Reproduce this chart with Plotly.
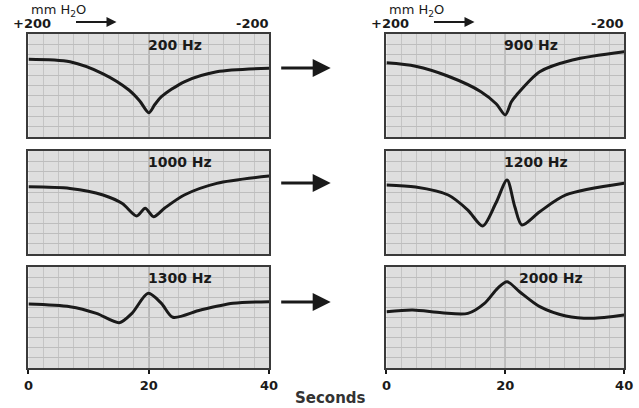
import plotly.graph_objects as go

# ---- data (time in seconds, relative admittance units 0-10) ----
t_200 = [0, 6.9, 12.4, 16.7, 18.5, 20, 21, 22.1, 25.9, 31.3, 40]
v_200 = [7.55, 7.3, 6.13, 4.56, 3.5, 2.36, 3.15, 3.91, 5.36, 6.33, 6.67]

t_900 = [0, 4.9, 10.4, 15.9, 18.5, 20, 21, 21.9, 25.8, 31.3, 40]
v_900 = [7.2, 6.87, 5.9, 4.4, 3.2, 2.14, 3.4, 4.08, 6.34, 7.48, 8.28]

t_1000 = [0, 6.9, 12.4, 15.6, 18, 19.4, 20.8, 22.6, 25.9, 31.3, 40]
v_1000 = [6.53, 6.37, 5.73, 4.9, 3.69, 4.44, 3.62, 4.44, 5.73, 6.86, 7.57]

t_1200 = [0, 4.9, 10.4, 13.7, 16.2, 18.4, 20.3, 21.6, 22.8, 25.8, 30.2, 40]
v_1200 = [6.7, 6.5, 5.73, 4.27, 2.72, 4.92, 7.18, 4.59, 2.82, 4.11, 5.73, 6.86]

t_1300 = [0, 6.9, 11.3, 15.1, 17.2, 19.9, 22.1, 24, 28.6, 34, 40]
v_1300 = [6.34, 6.07, 5.41, 4.49, 5.41, 7.39, 6.4, 5.02, 5.74, 6.4, 6.57]

t_2000 = [0, 4.4, 9.3, 13.7, 16.5, 18.7, 20.3, 22.4, 25.8, 30.2, 34.6, 40]
v_2000 = [5.57, 5.74, 5.47, 5.41, 6.4, 7.89, 8.54, 7.55, 6.07, 5.15, 4.92, 5.25]

freq_labels = ["200 Hz", "900 Hz", "1000 Hz", "1200 Hz", "1300 Hz", "2000 Hz"]
x_ticks = [0, 20, 40]
x_tick_labels = ["0", "20", "40"]

series = [(t_200, v_200), (t_900, v_900), (t_1000, v_1000),
          (t_1200, v_1200), (t_1300, v_1300), (t_2000, v_2000)]

W, H = 639, 408
OFF = 0  # page body margin removed by post_script


def px(x):
    return (x - OFF) / W


def py(y):
    return 1 - (y - OFF) / H


col_px = [(24, 270), (390, 633)]
row_px = [(34, 137), (151, 254), (267, 368)]
col_dom = [[px(a), px(b)] for a, b in col_px]
row_dom = [[py(b), py(a)] for a, b in row_px]

fig = go.Figure()
ink = "#1a1a1a"
FAM = "DejaVu Sans, Arial, sans-serif"

for i, (t, v) in enumerate(series):
    r, c = divmod(i, 2)
    n = i + 1
    xa = "x" if n == 1 else f"x{n}"
    ya = "y" if n == 1 else f"y{n}"
    fig.add_trace(go.Scatter(x=t, y=v, xaxis=xa, yaxis=ya, mode="lines",
                             line=dict(color=ink, width=3, shape="spline", smoothing=0.8),
                             showlegend=False, hoverinfo="skip"))
    bottom = (r == 2)
    fig.update_layout(**{
        ("xaxis" if n == 1 else f"xaxis{n}"): dict(
            domain=col_dom[c], range=[0, 40], anchor=ya,
            showgrid=True, gridcolor="#bdbdbd", gridwidth=0.5,
            tickvals=x_ticks, ticktext=x_tick_labels if bottom else ["", "", ""],
            showticklabels=bottom, ticks="outside" if bottom else "", ticklen=4,
            tickcolor=ink, tickwidth=2,
            tickfont=dict(family=FAM, size=13, color=ink, weight="bold"),
            minor=dict(showgrid=True, gridcolor="#c4c4c4", gridwidth=0.5, dtick=2.5),
            showline=True, linecolor="#3a3a3a", linewidth=2, mirror=True, zeroline=False),
        ("yaxis" if n == 1 else f"yaxis{n}"): dict(
            domain=row_dom[r], range=[0, 10], anchor=xa,
            showgrid=True, gridcolor="#bdbdbd", gridwidth=0.5, dtick=1,
            showticklabels=False, ticks="",
            showline=True, linecolor="#3a3a3a", linewidth=2, mirror=True, zeroline=False),
    })
    # center vertical line
    fig.add_shape(type="line", xref=xa, yref=ya, x0=20, x1=20, y0=0, y1=10,
                  line=dict(color="#555555", width=1), layer="below")
    # frequency label
    fig.add_annotation(xref=xa, yref=ya, x=22.0 if i == 5 else 19.5, y=9.95,
                       text=f"<b>{freq_labels[i]}</b>", showarrow=False,
                       xanchor="left", yanchor="top",
                       font=dict(family=FAM, size=14, color=ink))

# headers "mm H2O", "+200 ->", "-200"
for c, (x0, x1) in enumerate(col_px):
    fig.add_annotation(xref="paper", yref="paper", x=px(x0 + 1), y=py(0),
                       text="mm H<sub>2</sub>O", showarrow=False, xanchor="left", yanchor="top",
                       font=dict(family=FAM, size=13, color=ink))
    fig.add_annotation(xref="paper", yref="paper", x=px(x0 - 18), y=py(14),
                       text="<b>+200</b>", showarrow=False, xanchor="left", yanchor="top",
                       font=dict(family=FAM, size=13, color=ink))
    fig.add_annotation(xref="paper", yref="paper", x=px(x0 + 90), y=py(22),
                       ax=-42, ay=0, axref="pixel", ayref="pixel",
                       text="", showarrow=True, arrowhead=2, arrowsize=1, arrowwidth=2,
                       arrowcolor=ink)
    fig.add_annotation(xref="paper", yref="paper", x=px(x1 + 2), y=py(14),
                       text="<b>-200</b>", showarrow=False, xanchor="right", yanchor="top",
                       font=dict(family=FAM, size=13, color=ink))

# arrows between columns
for yy in [68, 183, 302]:
    fig.add_annotation(xref="paper", yref="paper", x=px(333), y=py(yy),
                       ax=-51, ay=0, axref="pixel", ayref="pixel",
                       text="", showarrow=True, arrowhead=2, arrowsize=1.2, arrowwidth=3,
                       arrowcolor=ink)

fig.add_annotation(xref="paper", yref="paper", x=px(333), y=py(387),
                   text="<b>Seconds</b>", showarrow=False, xanchor="center", yanchor="top",
                   font=dict(family=FAM, size=15, color="#333333"))

fig.update_layout(width=W, height=H, autosize=False,
                  margin=dict(l=0, r=0, t=0, b=0),
                  paper_bgcolor="white", plot_bgcolor="#dedede")

fig.write_html("out.html", config={"displayModeBar": False},
               post_script="document.body.style.margin='0px';document.body.style.overflow='hidden';")
